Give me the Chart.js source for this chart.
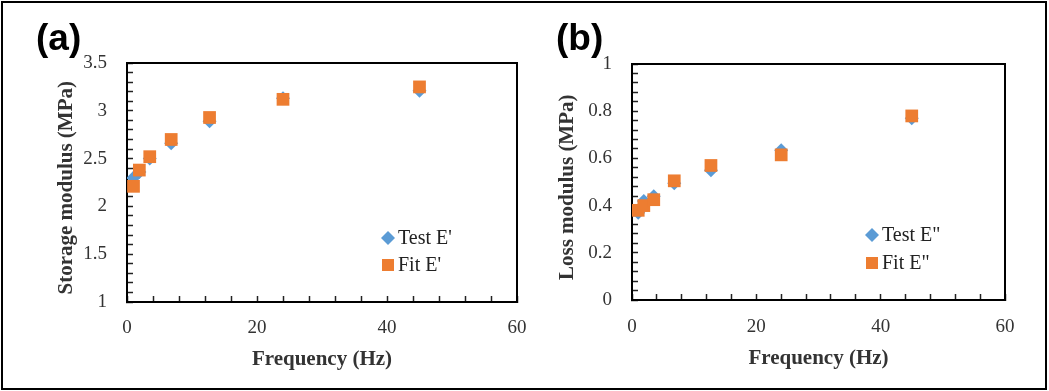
<!DOCTYPE html>
<html><head><meta charset="utf-8">
<script src="https://cdn.jsdelivr.net/npm/chart.js@4.4.1/dist/chart.umd.min.js"></script>
<style>
html,body{margin:0;padding:0;background:#fff;}
#wrap{position:relative;width:1049px;height:391px;overflow:hidden;background:#fff;}
#frame{position:absolute;left:1px;top:1px;width:1042px;height:385px;border:2px solid #000;}
canvas{position:absolute;top:0;}
#ca{left:0;} #cb{left:530px;}
.lab{position:absolute;top:19px;font-family:"Liberation Sans",Arial,sans-serif;font-weight:bold;font-size:37px;color:#000;line-height:1;}
</style></head>
<body><div id="wrap">
<canvas id="cb" width="519" height="391"></canvas>
<canvas id="ca" width="548" height="391"></canvas>
<div class="lab" style="left:36px">(a)</div>
<div class="lab" style="left:556px">(b)</div>
<div id="frame"></div>
</div>
<script>
// ---- data ----
const frequency = [1, 1.9, 3.5, 6.8, 12.7, 24, 45];
const testStorage = [2.30, 2.36, 2.50, 2.66, 2.89, 3.13, 3.21];
const fitStorage  = [2.21, 2.38, 2.52, 2.70, 2.93, 3.12, 3.25];
const testLoss = [0.37, 0.42, 0.44, 0.495, 0.55, 0.635, 0.77];
const fitLoss  = [0.38, 0.40, 0.425, 0.505, 0.57, 0.615, 0.78];
const xTickLabels = [0, 20, 40, 60];
const yTicksA = [1, 1.5, 2, 2.5, 3, 3.5];
const yTicksB = [0, 0.2, 0.4, 0.6, 0.8, 1];

const BLUE = '#5B9BD5', ORANGE = '#ED7D31';
const SERIF = '"Liberation Serif","Times New Roman",serif';

function pts(xs, ys){ return xs.map((x,i)=>({x:x, y:ys[i]})); }
function near(v, list){ return list.some(t => Math.abs(t - v) < 1e-6); }

const framePlugin = {
  id: 'frameBox',
  afterDraw(chart, args, opts){
    const {ctx, chartArea:a} = chart;
    ctx.save();
    ctx.strokeStyle = '#000'; ctx.lineWidth = 2;
    ctx.beginPath();
    ctx.moveTo(a.left, a.top); ctx.lineTo(a.right, a.top); ctx.lineTo(a.right, a.bottom);
    ctx.stroke();
    // legend
    const lx = a.left + opts.x, ly = a.top + opts.y;
    chart.data.datasets.forEach((ds, i) => {
      const cy = ly + i * opts.gap;
      ctx.fillStyle = ds.backgroundColor;
      ctx.beginPath();
      if (ds.pointStyle === 'rectRot') {
        const r = 7;
        ctx.moveTo(lx, cy - r); ctx.lineTo(lx + r, cy); ctx.lineTo(lx, cy + r); ctx.lineTo(lx - r, cy);
        ctx.closePath();
      } else {
        ctx.rect(lx - 6, cy - 6, 12, 12);
      }
      ctx.fill();
      ctx.fillStyle = '#222';
      ctx.font = '20px ' + SERIF;
      ctx.textBaseline = 'middle'; ctx.textAlign = 'left';
      ctx.fillText(ds.label, lx + 10, cy + 1);
    });
    ctx.restore();
  }
};

function makeChart(id, test, fit, labels, yMin, yMax, yMinor, yTicks, yTitle, L) {
  return new Chart(document.getElementById(id), {
    type: 'scatter',
    data: { datasets: [
      { label: labels[0], data: pts(frequency, test), pointStyle: 'rectRot', pointRadius: 7, pointHoverRadius: 7,
        backgroundColor: BLUE, borderColor: BLUE, borderWidth: 0, order: 2 },
      { label: labels[1], data: pts(frequency, fit), pointStyle: 'rect', pointRadius: 9, pointHoverRadius: 9,
        backgroundColor: ORANGE, borderColor: ORANGE, borderWidth: 0, order: 1 }
    ]},
    options: {
      responsive: false, animation: false, events: [],
      layout: { padding: { top: L.top, right: L.right, bottom: 0, left: 0 } },
      plugins: { legend: { display: false }, tooltip: { enabled: false },
        frameBox: { x: L.legX, y: L.legY, gap: L.legGap } },
      scales: {
        x: {
          type: 'linear', min: 0, max: 60,
          afterFit: s => { s.height = L.xH; },
          border: { display: true, color: '#000', width: 2 },
          grid: { display: true, drawOnChartArea: false, drawTicks: true, tickLength: -6, tickColor: '#222', tickWidth: 1.5 },
          ticks: { stepSize: 4, autoSkip: false, maxRotation: 0, padding: L.xPad, color: '#333',
            font: { family: SERIF, size: 19 },
            callback: v => near(v, xTickLabels) ? String(v) : '' },
          title: { display: true, text: 'Frequency (Hz)', color: '#333',
            font: { family: SERIF, size: 21, weight: 'bold' }, padding: { top: 0, bottom: L.xTitlePad } }
        },
        y: {
          type: 'linear', min: yMin, max: yMax,
          afterFit: s => { s.width = L.yW; },
          border: { display: true, color: '#000', width: 2 },
          grid: { display: true, drawOnChartArea: false, drawTicks: true, tickLength: -6, tickColor: '#222', tickWidth: 1.5 },
          ticks: { stepSize: yMinor, autoSkip: false, padding: 26, color: '#333',
            font: { family: SERIF, size: 19 },
            callback: v => near(v, yTicks) ? String(Math.round(v*10)/10) : '' },
          title: { display: true, text: yTitle + '  ', color: '#333',
            font: { family: SERIF, size: 21, weight: 'bold' }, padding: { top: L.yTitlePad, bottom: 0 } }
        }
      }
    },
    plugins: [framePlugin]
  });
}

makeChart('ca', testStorage, fitStorage, ["Test E'", "Fit E'"], 1, 3.5, 0.1, yTicksA,
  'Storage modulus (MPa)',
  { top: 63, right: 31, xH: 89, yW: 127, xPad: 21, xTitlePad: 19, yTitlePad: 54, legX: 261, legY: 175, legGap: 27 });

makeChart('cb', testLoss, fitLoss, ['Test E"', 'Fit E"'], 0, 1, 0.04, yTicksB,
  'Loss modulus (MPa)',
  { top: 64, right: 44, xH: 91, yW: 102, xPad: 22, xTitlePad: 20, yTitlePad: 25, legX: 240, legY: 171, legGap: 28 });
</script>
</body></html>
